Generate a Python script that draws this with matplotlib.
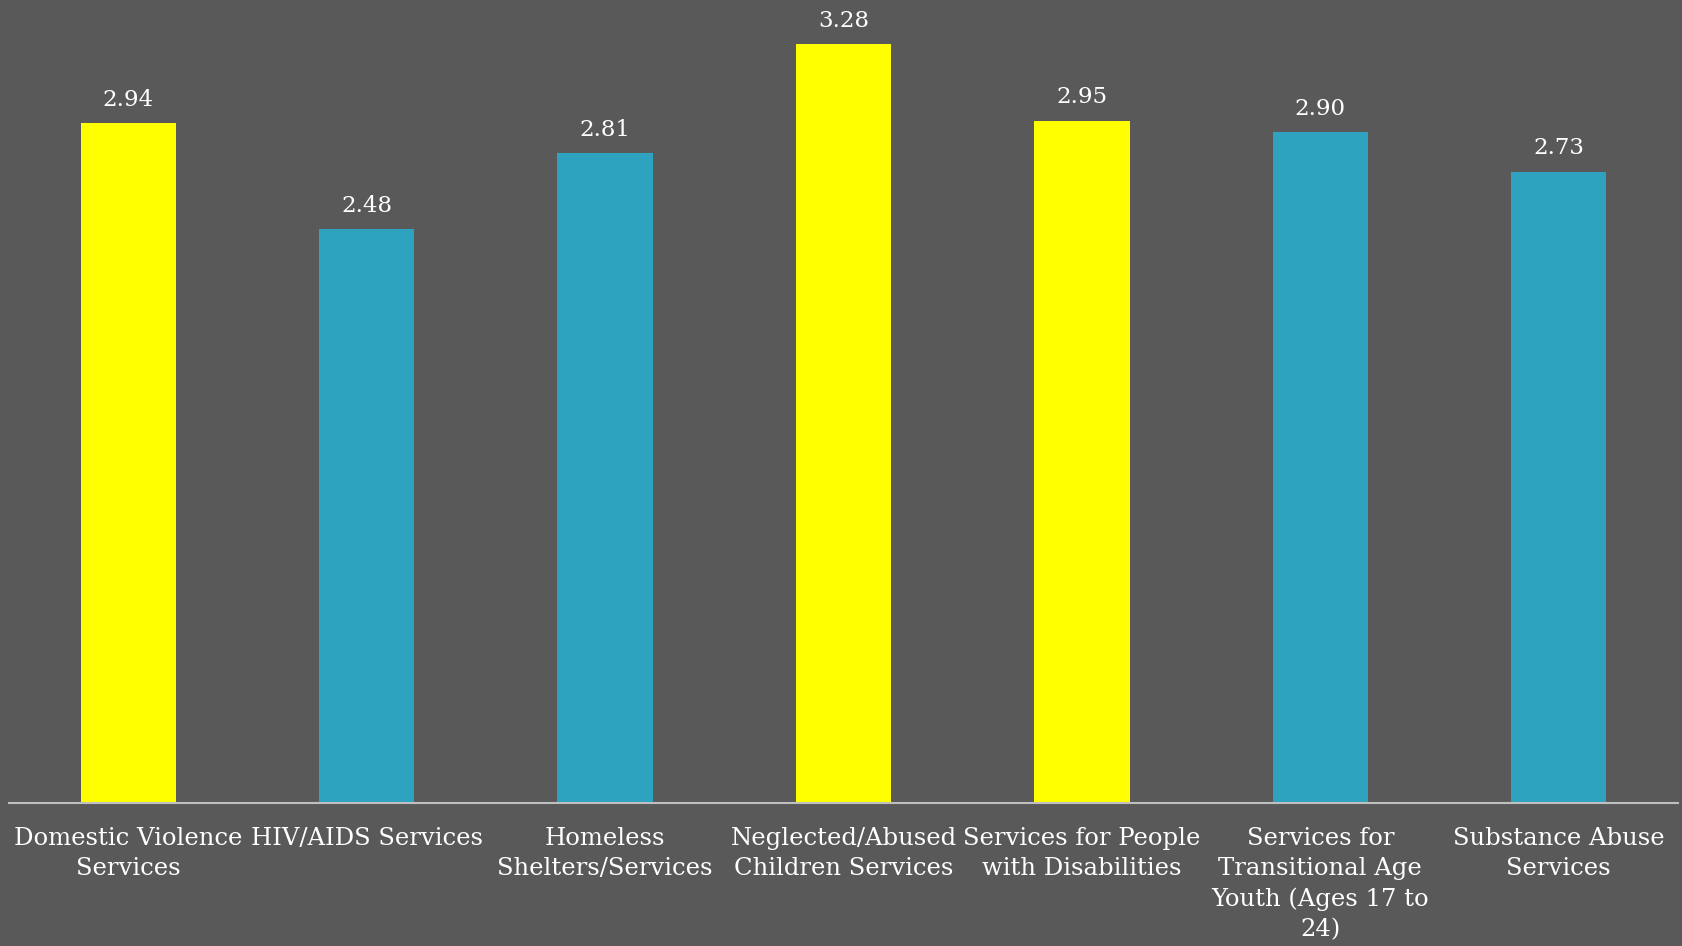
import numpy as np
from matplotlib import pyplot as plt

categories = ["Domestic Violence\nServices", "HIV/AIDS Services", "Homeless\nShelters/Services",
              "Neglected/Abused\nChildren Services", "Services for People\nwith Disabilities",
              "Services for\nTransitional Age\nYouth (Ages 17 to\n24)", "Substance Abuse\nServices"]
scores = [2.94, 2.48, 2.81, 3.28, 2.95, 2.90, 2.73]
highlight = [True, False, False, True, True, False, False]

BG = "#595959"
YELLOW = "#FFFF00"
TEAL = "#2DA3BF"

plt.rcParams['font.family'] = ['DejaVu Serif']

fig = plt.figure(figsize=(16.83, 9.46), dpi=100, facecolor=BG)
ax = fig.add_axes([9 / 1683, 143 / 946, 1669 / 1683, 803 / 946])
ax.set_facecolor(BG)

x = np.arange(len(categories))
colors = [YELLOW if h else TEAL for h in highlight]
bars = ax.bar(x, scores, width=0.40, color=colors, zorder=2)

for xi, v in zip(x, scores):
    ax.annotate("%.2f" % v, (xi, v), xytext=(0, 9), textcoords="offset points",
                ha="center", va="bottom", color="white", fontsize=16.5)

ax.set_xlim(-0.5, len(categories) - 0.5)
ax.set_ylim(0, 3.472)
ax.set_xticks(x)
ax.set_xticklabels(categories, color="white", fontsize=17.5, linespacing=1.4)
ax.tick_params(axis="x", length=0, pad=17)
ax.set_yticks([])
for s in ["top", "left", "right"]:
    ax.spines[s].set_visible(False)
ax.spines["bottom"].set_color("#BFBFBF")
ax.spines["bottom"].set_linewidth(1.5)

plt.savefig("out.png", dpi=100, facecolor=BG)
